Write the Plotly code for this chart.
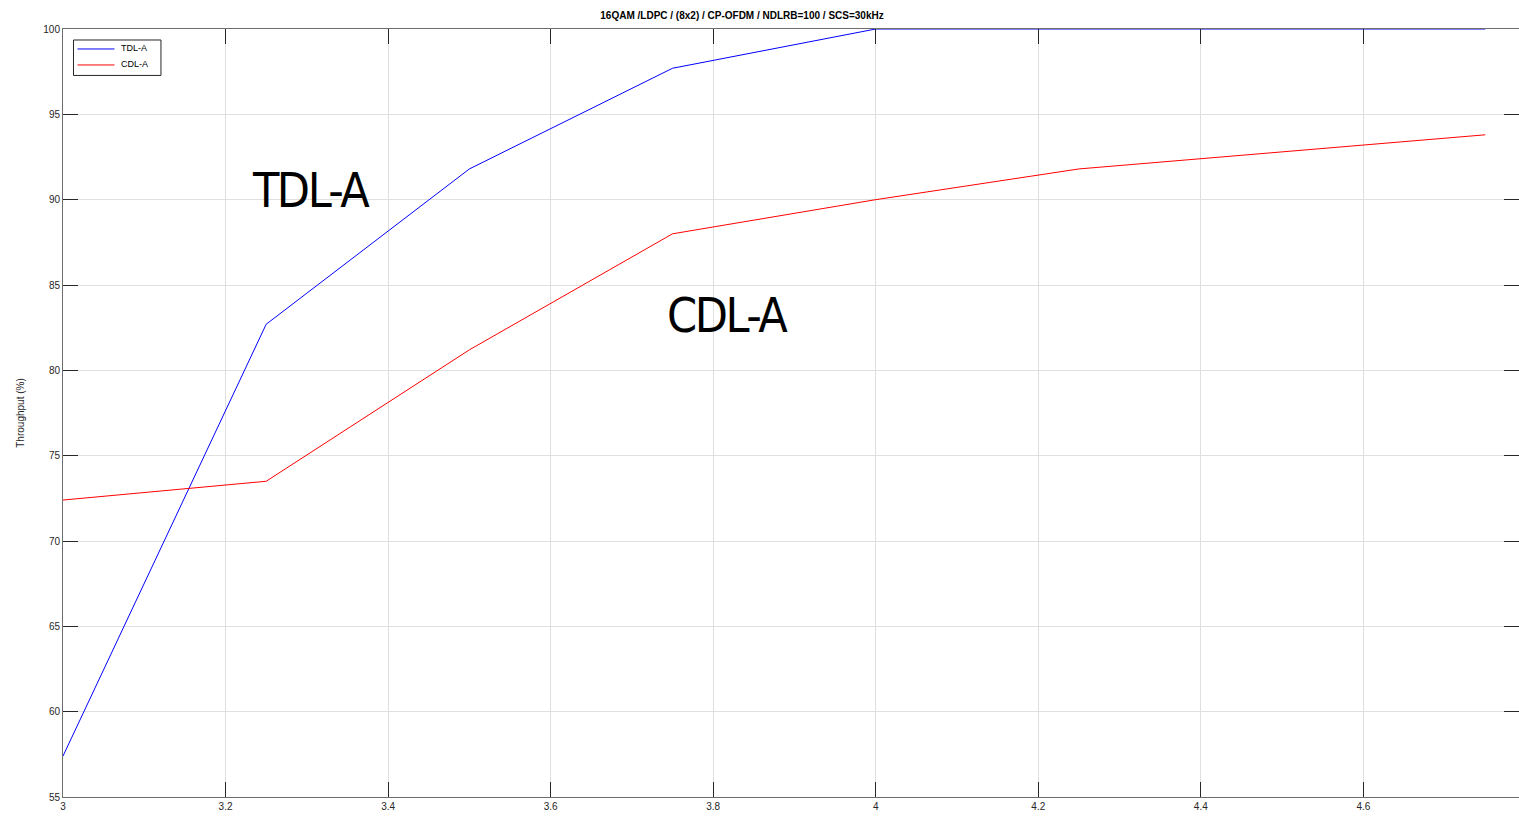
import plotly.graph_objects as go

snr = [3.0, 3.25, 3.5, 3.75, 4.0, 4.25, 4.5, 4.75]
tdl_a = [57.4, 82.7, 91.8, 97.7, 100.0, 100.0, 100.0, 100.0]
cdl_a = [72.4, 73.5, 81.2, 88.0, 90.0, 91.8, 92.8, 93.8]
series_names = ["TDL-A", "CDL-A"]
series_colors = ["#0000ff", "#ff0000"]
x_ticks = [3, 3.2, 3.4, 3.6, 3.8, 4, 4.2, 4.4, 4.6, 4.8]
y_ticks = [55, 60, 65, 70, 75, 80, 85, 90, 95, 100]

W, H = 1519, 818
L, T, B = 62.5, 28.5, 20.5
R = 0
PW, PH = W - L - R, H - T - B


def px_x(px):
    return (px - L) / PW


def px_y(py):
    return (H - B - py) / PH


fig = go.Figure()
for name, vals, col in zip(series_names, [tdl_a, cdl_a], series_colors):
    fig.add_trace(go.Scatter(x=snr, y=vals, mode="lines", name=name,
                             line=dict(color=col, width=1), showlegend=False))

px_per_x = 813.0
x_end = 3 + PW / px_per_x

axis_common = dict(
    showgrid=True, gridcolor="#dfdfdf", gridwidth=1,
    showline=True, linecolor="#6e6e6e", linewidth=1, mirror="allticks",
    ticks="inside", ticklen=15, tickcolor="#262626", tickwidth=1,
    tickfont=dict(family="Liberation Sans, Arial, sans-serif", size=10, color="#262626"),
    zeroline=False,
)

fig.update_layout(
    width=W, height=H,
    margin=dict(l=L, r=R, t=T, b=B, pad=0),
    paper_bgcolor="white", plot_bgcolor="white",
    title=dict(text="<b>16QAM /LDPC / (8x2) / CP-OFDM / NDLRB=100 / SCS=30kHz</b>",
               x=742 / W, xanchor="center", y=1 - 15 / H, yanchor="middle",
               yref="container", xref="container",
               font=dict(family="Liberation Sans, Arial, sans-serif", size=10, color="#000000")),
    xaxis=dict(range=[3, x_end], tickvals=x_ticks,
               ticktext=[f"{v:g}" for v in x_ticks], **axis_common),
    yaxis=dict(range=[55, 100], tickvals=y_ticks,
               ticktext=[f"{v:g}" for v in y_ticks],
               title=dict(text="Throughput (%)", standoff=16,
                          font=dict(family="Liberation Sans, Arial, sans-serif", size=10, color="#262626")),
               **axis_common),
    showlegend=False,
)

# legend box (drawn manually to match the reference's compact layout)
fig.add_shape(type="rect", xref="paper", yref="paper",
              x0=px_x(73), x1=px_x(160.5), y0=px_y(75), y1=px_y(39.5),
              line=dict(color="#262626", width=1), fillcolor="white", layer="above")
for i, (name, col) in enumerate(zip(series_names, series_colors)):
    yy = 48.5 + 16 * i
    fig.add_shape(type="line", xref="paper", yref="paper",
                  x0=px_x(77), x1=px_x(114), y0=px_y(yy), y1=px_y(yy),
                  line=dict(color=col, width=1), layer="above")
    fig.add_annotation(xref="paper", yref="paper", x=px_x(119), y=px_y(yy - 1),
                       text=name, showarrow=False, xanchor="left", yanchor="middle",
                       font=dict(family="Liberation Sans, Arial, sans-serif", size=9, color="#000000"))

big_font = dict(family="DejaVu Sans Condensed, Open Sans, sans-serif", size=48, color="#000000")
for label, lx, ly in [("TDL-A", 3.305, 90.55), ("CDL-A", 3.818, 83.23)]:
    fig.add_annotation(x=lx, y=ly,
                       text=f'<span style="letter-spacing:-2.5px">{label}</span>',
                       showarrow=False, font=big_font,
                       xanchor="center", yanchor="middle")

fig.write_html("out.html")
